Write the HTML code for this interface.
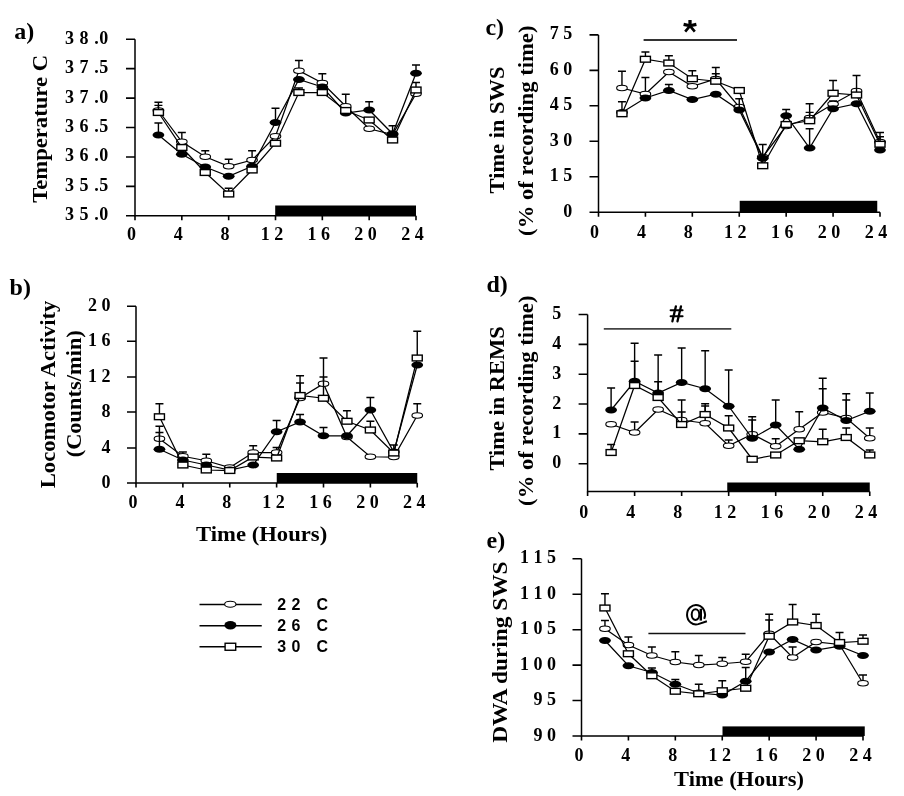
<!DOCTYPE html>
<html><head><meta charset="utf-8"><title>Figure</title>
<style>html,body{margin:0;padding:0;background:#fff;width:904px;height:796px;overflow:hidden}svg{display:block;will-change:transform}</style>
</head><body>
<svg width="904" height="796" viewBox="0 0 904 796">
<rect width="904" height="796" fill="#fff"/>
<rect x="275.2" y="205.5" width="140.8" height="10.25" fill="#000"/>
<path d="M135 39.25V215.75H416" fill="none" stroke="#000" stroke-width="1.5"/>
<path d="M126 39.25H135M126 68.67H135M126 98.09H135M126 127.51H135M126 156.93H135M126 186.35H135M126 215.77H135" stroke="#000" stroke-width="1.6"/>
<text x="108.8" y="43.75" font-size="18" text-anchor="end" letter-spacing="0.55" font-family='"Liberation Serif", serif' font-weight="bold">3 8 .0</text>
<text x="108.8" y="73.17" font-size="18" text-anchor="end" letter-spacing="0.55" font-family='"Liberation Serif", serif' font-weight="bold">3 7 .5</text>
<text x="108.8" y="102.59" font-size="18" text-anchor="end" letter-spacing="0.55" font-family='"Liberation Serif", serif' font-weight="bold">3 7 .0</text>
<text x="108.8" y="132.01" font-size="18" text-anchor="end" letter-spacing="0.55" font-family='"Liberation Serif", serif' font-weight="bold">3 6 .5</text>
<text x="108.8" y="161.43" font-size="18" text-anchor="end" letter-spacing="0.55" font-family='"Liberation Serif", serif' font-weight="bold">3 6 .0</text>
<text x="108.8" y="190.85" font-size="18" text-anchor="end" letter-spacing="0.55" font-family='"Liberation Serif", serif' font-weight="bold">3 5 .5</text>
<text x="108.8" y="220.27" font-size="18" text-anchor="end" letter-spacing="0.55" font-family='"Liberation Serif", serif' font-weight="bold">3 5 .0</text>
<path d="M135 215.75v4.5M181.83 215.75v4.5M228.67 215.75v4.5M275.5 215.75v4.5M322.33 215.75v4.5M369.17 215.75v4.5M416 215.75v4.5" stroke="#000" stroke-width="1.6"/>
<text transform="translate(131.4 240.2)" font-size="18" text-anchor="middle" font-family='"Liberation Serif", serif' font-weight="bold">0</text>
<text transform="translate(178.23 240.2)" font-size="18" text-anchor="middle" font-family='"Liberation Serif", serif' font-weight="bold">4</text>
<text transform="translate(225.07 240.2)" font-size="18" text-anchor="middle" font-family='"Liberation Serif", serif' font-weight="bold">8</text>
<text transform="translate(271.9 240.2)" font-size="18" text-anchor="middle" font-family='"Liberation Serif", serif' font-weight="bold">1 2</text>
<text transform="translate(318.73 240.2)" font-size="18" text-anchor="middle" font-family='"Liberation Serif", serif' font-weight="bold">1 6</text>
<text transform="translate(365.57 240.2)" font-size="18" text-anchor="middle" font-family='"Liberation Serif", serif' font-weight="bold">2 0</text>
<text transform="translate(412.4 240.2)" font-size="18" text-anchor="middle" font-family='"Liberation Serif", serif' font-weight="bold">2 4</text>
<path d="M158.42 110.5 L181.83 141.75 L205.25 156.75 L228.67 166.25 L252.08 160 L275.5 136.25 L298.92 70.75 L322.33 83 L345.75 106.25 L369.17 128.75 L392.58 134.5 L416 93.75" fill="none" stroke="#000" stroke-width="1.25"/>
<path d="M158.42 110.5V102.2M154.42 102.2h8M181.83 141.75V132.5M177.83 132.5h8M205.25 156.75V150.75M201.25 150.75h8M228.67 166.25V159.25M224.67 159.25h8M252.08 160V150.75M248.08 150.75h8M298.92 70.75V60.5M294.92 60.5h8M322.33 83V73.75M318.33 73.75h8M345.75 106.25V94.25M341.75 94.25h8" fill="none" stroke="#000" stroke-width="1.4"/>
<ellipse cx="158.42" cy="110.5" rx="5.3" ry="2.7" fill="#fff" stroke="#000" stroke-width="1.1"/>
<ellipse cx="181.83" cy="141.75" rx="5.3" ry="2.7" fill="#fff" stroke="#000" stroke-width="1.1"/>
<ellipse cx="205.25" cy="156.75" rx="5.3" ry="2.7" fill="#fff" stroke="#000" stroke-width="1.1"/>
<ellipse cx="228.67" cy="166.25" rx="5.3" ry="2.7" fill="#fff" stroke="#000" stroke-width="1.1"/>
<ellipse cx="252.08" cy="160" rx="5.3" ry="2.7" fill="#fff" stroke="#000" stroke-width="1.1"/>
<ellipse cx="275.5" cy="136.25" rx="5.3" ry="2.7" fill="#fff" stroke="#000" stroke-width="1.1"/>
<ellipse cx="298.92" cy="70.75" rx="5.3" ry="2.7" fill="#fff" stroke="#000" stroke-width="1.1"/>
<ellipse cx="322.33" cy="83" rx="5.3" ry="2.7" fill="#fff" stroke="#000" stroke-width="1.1"/>
<ellipse cx="345.75" cy="106.25" rx="5.3" ry="2.7" fill="#fff" stroke="#000" stroke-width="1.1"/>
<ellipse cx="369.17" cy="128.75" rx="5.3" ry="2.7" fill="#fff" stroke="#000" stroke-width="1.1"/>
<ellipse cx="392.58" cy="134.5" rx="5.3" ry="2.7" fill="#fff" stroke="#000" stroke-width="1.1"/>
<ellipse cx="416" cy="93.75" rx="5.3" ry="2.7" fill="#fff" stroke="#000" stroke-width="1.1"/>
<path d="M158.42 135 L181.83 154.25 L205.25 167 L228.67 176.25 L252.08 166.25 L275.5 122.5 L298.92 79.5 L322.33 87 L345.75 113 L369.17 110 L392.58 133.75 L416 73.25" fill="none" stroke="#000" stroke-width="1.25"/>
<path d="M158.42 135V123M154.42 123h8M275.5 122.5V108.25M271.5 108.25h8M369.17 110V101.75M365.17 101.75h8M392.58 133.75V125.75M388.58 125.75h8M416 73.25V65M412 65h8" fill="none" stroke="#000" stroke-width="1.4"/>
<ellipse cx="158.42" cy="135" rx="5.9" ry="3.5" fill="#000"/>
<ellipse cx="181.83" cy="154.25" rx="5.9" ry="3.5" fill="#000"/>
<ellipse cx="205.25" cy="167" rx="5.9" ry="3.5" fill="#000"/>
<ellipse cx="228.67" cy="176.25" rx="5.9" ry="3.5" fill="#000"/>
<ellipse cx="252.08" cy="166.25" rx="5.9" ry="3.5" fill="#000"/>
<ellipse cx="275.5" cy="122.5" rx="5.9" ry="3.5" fill="#000"/>
<ellipse cx="298.92" cy="79.5" rx="5.9" ry="3.5" fill="#000"/>
<ellipse cx="322.33" cy="87" rx="5.9" ry="3.5" fill="#000"/>
<ellipse cx="345.75" cy="113" rx="5.9" ry="3.5" fill="#000"/>
<ellipse cx="369.17" cy="110" rx="5.9" ry="3.5" fill="#000"/>
<ellipse cx="392.58" cy="133.75" rx="5.9" ry="3.5" fill="#000"/>
<ellipse cx="416" cy="73.25" rx="5.9" ry="3.5" fill="#000"/>
<path d="M158.42 112.5 L181.83 147.5 L205.25 172.5 L228.67 194 L252.08 170 L275.5 143.25 L298.92 92.5 L322.33 92.5 L345.75 110.5 L369.17 120 L392.58 140 L416 90" fill="none" stroke="#000" stroke-width="1.25"/>
<path d="M158.42 112.5V105.4M154.42 105.4h8M228.67 194V188.25M224.67 188.25h8M298.92 92.5V88M294.92 88h8M416 90V82.5M412 82.5h8" fill="none" stroke="#000" stroke-width="1.4"/>
<rect x="153.42" y="109.6" width="10" height="5.8" fill="#fff" stroke="#000" stroke-width="1.4"/>
<rect x="176.83" y="144.6" width="10" height="5.8" fill="#fff" stroke="#000" stroke-width="1.4"/>
<rect x="200.25" y="169.6" width="10" height="5.8" fill="#fff" stroke="#000" stroke-width="1.4"/>
<rect x="223.67" y="191.1" width="10" height="5.8" fill="#fff" stroke="#000" stroke-width="1.4"/>
<rect x="247.08" y="167.1" width="10" height="5.8" fill="#fff" stroke="#000" stroke-width="1.4"/>
<rect x="270.5" y="140.35" width="10" height="5.8" fill="#fff" stroke="#000" stroke-width="1.4"/>
<rect x="293.92" y="89.6" width="10" height="5.8" fill="#fff" stroke="#000" stroke-width="1.4"/>
<rect x="317.33" y="89.6" width="10" height="5.8" fill="#fff" stroke="#000" stroke-width="1.4"/>
<rect x="340.75" y="107.6" width="10" height="5.8" fill="#fff" stroke="#000" stroke-width="1.4"/>
<rect x="364.17" y="117.1" width="10" height="5.8" fill="#fff" stroke="#000" stroke-width="1.4"/>
<rect x="387.58" y="137.1" width="10" height="5.8" fill="#fff" stroke="#000" stroke-width="1.4"/>
<rect x="411" y="87.1" width="10" height="5.8" fill="#fff" stroke="#000" stroke-width="1.4"/>
<rect x="276.75" y="473" width="140.5" height="10" fill="#000"/>
<path d="M136 306.25V483H417.25" fill="none" stroke="#000" stroke-width="1.5"/>
<path d="M127 306.25H136M127 341.25H136M127 377H136M127 412H136M127 448H136M127 483H136" stroke="#000" stroke-width="1.6"/>
<text transform="translate(110.5 310.75)" font-size="18" text-anchor="end" font-family='"Liberation Serif", serif' font-weight="bold">2 0</text>
<text transform="translate(110.5 345.75)" font-size="18" text-anchor="end" font-family='"Liberation Serif", serif' font-weight="bold">1 6</text>
<text transform="translate(110.5 381.5)" font-size="18" text-anchor="end" font-family='"Liberation Serif", serif' font-weight="bold">1 2</text>
<text transform="translate(110.5 416.5)" font-size="18" text-anchor="end" font-family='"Liberation Serif", serif' font-weight="bold">8</text>
<text transform="translate(110.5 452.5)" font-size="18" text-anchor="end" font-family='"Liberation Serif", serif' font-weight="bold">4</text>
<text transform="translate(110.5 487.5)" font-size="18" text-anchor="end" font-family='"Liberation Serif", serif' font-weight="bold">0</text>
<path d="M136 483v4.5M182.88 483v4.5M229.75 483v4.5M276.62 483v4.5M323.5 483v4.5M370.38 483v4.5M417.25 483v4.5" stroke="#000" stroke-width="1.6"/>
<text transform="translate(133 507.5)" font-size="18" text-anchor="middle" font-family='"Liberation Serif", serif' font-weight="bold">0</text>
<text transform="translate(179.88 507.5)" font-size="18" text-anchor="middle" font-family='"Liberation Serif", serif' font-weight="bold">4</text>
<text transform="translate(226.75 507.5)" font-size="18" text-anchor="middle" font-family='"Liberation Serif", serif' font-weight="bold">8</text>
<text transform="translate(273.62 507.5)" font-size="18" text-anchor="middle" font-family='"Liberation Serif", serif' font-weight="bold">1 2</text>
<text transform="translate(320.5 507.5)" font-size="18" text-anchor="middle" font-family='"Liberation Serif", serif' font-weight="bold">1 6</text>
<text transform="translate(367.38 507.5)" font-size="18" text-anchor="middle" font-family='"Liberation Serif", serif' font-weight="bold">2 0</text>
<text transform="translate(414.25 507.5)" font-size="18" text-anchor="middle" font-family='"Liberation Serif", serif' font-weight="bold">2 4</text>
<path d="M159.44 438.75 L182.88 456.25 L206.31 460.75 L229.75 467.5 L253.19 452.5 L276.62 452.5 L300.06 398 L323.5 383.75 L346.94 437 L370.38 456.75 L393.81 457 L417.25 415.5" fill="none" stroke="#000" stroke-width="1.25"/>
<path d="M159.44 438.75V426.25M155.44 426.25h8M182.88 456.25V452M178.88 452h8M206.31 460.75V454.25M202.31 454.25h8M253.19 452.5V445.75M249.19 445.75h8M276.62 452.5V447.5M272.62 447.5h8M300.06 398V383M296.06 383h8M323.5 383.75V358M319.5 358h8M417.25 415.5V403.75M413.25 403.75h8" fill="none" stroke="#000" stroke-width="1.4"/>
<ellipse cx="159.44" cy="438.75" rx="5.3" ry="2.7" fill="#fff" stroke="#000" stroke-width="1.1"/>
<ellipse cx="182.88" cy="456.25" rx="5.3" ry="2.7" fill="#fff" stroke="#000" stroke-width="1.1"/>
<ellipse cx="206.31" cy="460.75" rx="5.3" ry="2.7" fill="#fff" stroke="#000" stroke-width="1.1"/>
<ellipse cx="229.75" cy="467.5" rx="5.3" ry="2.7" fill="#fff" stroke="#000" stroke-width="1.1"/>
<ellipse cx="253.19" cy="452.5" rx="5.3" ry="2.7" fill="#fff" stroke="#000" stroke-width="1.1"/>
<ellipse cx="276.62" cy="452.5" rx="5.3" ry="2.7" fill="#fff" stroke="#000" stroke-width="1.1"/>
<ellipse cx="300.06" cy="398" rx="5.3" ry="2.7" fill="#fff" stroke="#000" stroke-width="1.1"/>
<ellipse cx="323.5" cy="383.75" rx="5.3" ry="2.7" fill="#fff" stroke="#000" stroke-width="1.1"/>
<ellipse cx="346.94" cy="437" rx="5.3" ry="2.7" fill="#fff" stroke="#000" stroke-width="1.1"/>
<ellipse cx="370.38" cy="456.75" rx="5.3" ry="2.7" fill="#fff" stroke="#000" stroke-width="1.1"/>
<ellipse cx="393.81" cy="457" rx="5.3" ry="2.7" fill="#fff" stroke="#000" stroke-width="1.1"/>
<ellipse cx="417.25" cy="415.5" rx="5.3" ry="2.7" fill="#fff" stroke="#000" stroke-width="1.1"/>
<path d="M159.44 449.25 L182.88 460 L206.31 465 L229.75 470 L253.19 465 L276.62 431.75 L300.06 422 L323.5 435.75 L346.94 435.75 L370.38 410 L393.81 452 L417.25 365" fill="none" stroke="#000" stroke-width="1.25"/>
<path d="M159.44 449.25V432.5M155.44 432.5h8M276.62 431.75V420.5M272.62 420.5h8M300.06 422V414.5M296.06 414.5h8M323.5 435.75V427.5M319.5 427.5h8M370.38 410V397.5M366.38 397.5h8" fill="none" stroke="#000" stroke-width="1.4"/>
<ellipse cx="159.44" cy="449.25" rx="5.9" ry="3.5" fill="#000"/>
<ellipse cx="182.88" cy="460" rx="5.9" ry="3.5" fill="#000"/>
<ellipse cx="206.31" cy="465" rx="5.9" ry="3.5" fill="#000"/>
<ellipse cx="229.75" cy="470" rx="5.9" ry="3.5" fill="#000"/>
<ellipse cx="253.19" cy="465" rx="5.9" ry="3.5" fill="#000"/>
<ellipse cx="276.62" cy="431.75" rx="5.9" ry="3.5" fill="#000"/>
<ellipse cx="300.06" cy="422" rx="5.9" ry="3.5" fill="#000"/>
<ellipse cx="323.5" cy="435.75" rx="5.9" ry="3.5" fill="#000"/>
<ellipse cx="346.94" cy="435.75" rx="5.9" ry="3.5" fill="#000"/>
<ellipse cx="370.38" cy="410" rx="5.9" ry="3.5" fill="#000"/>
<ellipse cx="393.81" cy="452" rx="5.9" ry="3.5" fill="#000"/>
<ellipse cx="417.25" cy="365" rx="5.9" ry="3.5" fill="#000"/>
<path d="M159.44 416.75 L182.88 465 L206.31 470 L229.75 470.5 L253.19 457 L276.62 458 L300.06 395.5 L323.5 398.25 L346.94 421.25 L370.38 430 L393.81 453 L417.25 358" fill="none" stroke="#000" stroke-width="1.25"/>
<path d="M159.44 416.75V403.75M155.44 403.75h8M300.06 395.5V375.75M296.06 375.75h8M323.5 398.25V377M319.5 377h8M346.94 421.25V410.75M342.94 410.75h8M370.38 430V421.25M366.38 421.25h8M393.81 453V445M389.81 445h8M417.25 358V331.25M413.25 331.25h8" fill="none" stroke="#000" stroke-width="1.4"/>
<rect x="154.44" y="413.85" width="10" height="5.8" fill="#fff" stroke="#000" stroke-width="1.4"/>
<rect x="177.88" y="462.1" width="10" height="5.8" fill="#fff" stroke="#000" stroke-width="1.4"/>
<rect x="201.31" y="467.1" width="10" height="5.8" fill="#fff" stroke="#000" stroke-width="1.4"/>
<rect x="224.75" y="467.6" width="10" height="5.8" fill="#fff" stroke="#000" stroke-width="1.4"/>
<rect x="248.19" y="454.1" width="10" height="5.8" fill="#fff" stroke="#000" stroke-width="1.4"/>
<rect x="271.62" y="455.1" width="10" height="5.8" fill="#fff" stroke="#000" stroke-width="1.4"/>
<rect x="295.06" y="392.6" width="10" height="5.8" fill="#fff" stroke="#000" stroke-width="1.4"/>
<rect x="318.5" y="395.35" width="10" height="5.8" fill="#fff" stroke="#000" stroke-width="1.4"/>
<rect x="341.94" y="418.35" width="10" height="5.8" fill="#fff" stroke="#000" stroke-width="1.4"/>
<rect x="365.38" y="427.1" width="10" height="5.8" fill="#fff" stroke="#000" stroke-width="1.4"/>
<rect x="388.81" y="450.1" width="10" height="5.8" fill="#fff" stroke="#000" stroke-width="1.4"/>
<rect x="412.25" y="355.1" width="10" height="5.8" fill="#fff" stroke="#000" stroke-width="1.4"/>
<rect x="739.7" y="200.8" width="137.55" height="11.4" fill="#000"/>
<path d="M598.5 34.9V212.2H880" fill="none" stroke="#000" stroke-width="1.5"/>
<path d="M589.5 34.9H598.5M589.5 70.36H598.5M589.5 105.82H598.5M589.5 141.28H598.5M589.5 176.74H598.5M589.5 212.2H598.5" stroke="#000" stroke-width="1.6"/>
<text transform="translate(572.2 39.4)" font-size="18" text-anchor="end" font-family='"Liberation Serif", serif' font-weight="bold">7 5</text>
<text transform="translate(572.2 74.86)" font-size="18" text-anchor="end" font-family='"Liberation Serif", serif' font-weight="bold">6 0</text>
<text transform="translate(572.2 110.32)" font-size="18" text-anchor="end" font-family='"Liberation Serif", serif' font-weight="bold">4 5</text>
<text transform="translate(572.2 145.78)" font-size="18" text-anchor="end" font-family='"Liberation Serif", serif' font-weight="bold">3 0</text>
<text transform="translate(572.2 181.24)" font-size="18" text-anchor="end" font-family='"Liberation Serif", serif' font-weight="bold">1 5</text>
<text transform="translate(572.2 216.7)" font-size="18" text-anchor="end" font-family='"Liberation Serif", serif' font-weight="bold">0</text>
<path d="M598.5 212.2v4.5M645.42 212.2v4.5M692.33 212.2v4.5M739.25 212.2v4.5M786.17 212.2v4.5M833.08 212.2v4.5M880 212.2v4.5" stroke="#000" stroke-width="1.6"/>
<text transform="translate(594.5 237.5)" font-size="18" text-anchor="middle" font-family='"Liberation Serif", serif' font-weight="bold">0</text>
<text transform="translate(641.42 237.5)" font-size="18" text-anchor="middle" font-family='"Liberation Serif", serif' font-weight="bold">4</text>
<text transform="translate(688.33 237.5)" font-size="18" text-anchor="middle" font-family='"Liberation Serif", serif' font-weight="bold">8</text>
<text transform="translate(735.25 237.5)" font-size="18" text-anchor="middle" font-family='"Liberation Serif", serif' font-weight="bold">1 2</text>
<text transform="translate(782.17 237.5)" font-size="18" text-anchor="middle" font-family='"Liberation Serif", serif' font-weight="bold">1 6</text>
<text transform="translate(829.08 237.5)" font-size="18" text-anchor="middle" font-family='"Liberation Serif", serif' font-weight="bold">2 0</text>
<text transform="translate(876 237.5)" font-size="18" text-anchor="middle" font-family='"Liberation Serif", serif' font-weight="bold">2 4</text>
<path d="M621.96 88 L645.42 94 L668.88 72 L692.33 86.25 L715.79 79 L739.25 107 L762.71 157 L786.17 126 L809.62 118 L833.08 104 L856.54 91 L880 142" fill="none" stroke="#000" stroke-width="1.25"/>
<path d="M621.96 88V71.25M617.96 71.25h8M645.42 94V77.5M641.42 77.5h8M715.79 79V73.8M711.79 73.8h8M809.62 118V112.4M805.62 112.4h8M833.08 104V101M829.08 101h8M880 142V136.7M876 136.7h8" fill="none" stroke="#000" stroke-width="1.4"/>
<ellipse cx="621.96" cy="88" rx="5.3" ry="2.7" fill="#fff" stroke="#000" stroke-width="1.1"/>
<ellipse cx="645.42" cy="94" rx="5.3" ry="2.7" fill="#fff" stroke="#000" stroke-width="1.1"/>
<ellipse cx="668.88" cy="72" rx="5.3" ry="2.7" fill="#fff" stroke="#000" stroke-width="1.1"/>
<ellipse cx="692.33" cy="86.25" rx="5.3" ry="2.7" fill="#fff" stroke="#000" stroke-width="1.1"/>
<ellipse cx="715.79" cy="79" rx="5.3" ry="2.7" fill="#fff" stroke="#000" stroke-width="1.1"/>
<ellipse cx="739.25" cy="107" rx="5.3" ry="2.7" fill="#fff" stroke="#000" stroke-width="1.1"/>
<ellipse cx="762.71" cy="157" rx="5.3" ry="2.7" fill="#fff" stroke="#000" stroke-width="1.1"/>
<ellipse cx="786.17" cy="126" rx="5.3" ry="2.7" fill="#fff" stroke="#000" stroke-width="1.1"/>
<ellipse cx="809.62" cy="118" rx="5.3" ry="2.7" fill="#fff" stroke="#000" stroke-width="1.1"/>
<ellipse cx="833.08" cy="104" rx="5.3" ry="2.7" fill="#fff" stroke="#000" stroke-width="1.1"/>
<ellipse cx="856.54" cy="91" rx="5.3" ry="2.7" fill="#fff" stroke="#000" stroke-width="1.1"/>
<ellipse cx="880" cy="142" rx="5.3" ry="2.7" fill="#fff" stroke="#000" stroke-width="1.1"/>
<path d="M621.96 112.5 L645.42 98 L668.88 90.5 L692.33 99.5 L715.79 94.25 L739.25 110 L762.71 158.25 L786.17 115.75 L809.62 148 L833.08 108.75 L856.54 103.75 L880 150" fill="none" stroke="#000" stroke-width="1.25"/>
<path d="M668.88 90.5V84.5M664.88 84.5h8M739.25 110V98.75M735.25 98.75h8M786.17 115.75V109.5M782.17 109.5h8M809.62 148V128.75M805.62 128.75h8" fill="none" stroke="#000" stroke-width="1.4"/>
<ellipse cx="621.96" cy="112.5" rx="5.9" ry="3.5" fill="#000"/>
<ellipse cx="645.42" cy="98" rx="5.9" ry="3.5" fill="#000"/>
<ellipse cx="668.88" cy="90.5" rx="5.9" ry="3.5" fill="#000"/>
<ellipse cx="692.33" cy="99.5" rx="5.9" ry="3.5" fill="#000"/>
<ellipse cx="715.79" cy="94.25" rx="5.9" ry="3.5" fill="#000"/>
<ellipse cx="739.25" cy="110" rx="5.9" ry="3.5" fill="#000"/>
<ellipse cx="762.71" cy="158.25" rx="5.9" ry="3.5" fill="#000"/>
<ellipse cx="786.17" cy="115.75" rx="5.9" ry="3.5" fill="#000"/>
<ellipse cx="809.62" cy="148" rx="5.9" ry="3.5" fill="#000"/>
<ellipse cx="833.08" cy="108.75" rx="5.9" ry="3.5" fill="#000"/>
<ellipse cx="856.54" cy="103.75" rx="5.9" ry="3.5" fill="#000"/>
<ellipse cx="880" cy="150" rx="5.9" ry="3.5" fill="#000"/>
<path d="M621.96 113.75 L645.42 59.25 L668.88 63 L692.33 78.75 L715.79 81.25 L739.25 90.5 L762.71 165.75 L786.17 124.5 L809.62 120.75 L833.08 93.25 L856.54 95 L880 144.25" fill="none" stroke="#000" stroke-width="1.25"/>
<path d="M621.96 113.75V101.75M617.96 101.75h8M645.42 59.25V52M641.42 52h8M668.88 63V55.75M664.88 55.75h8M692.33 78.75V70.75M688.33 70.75h8M715.79 81.25V67.5M711.79 67.5h8M762.71 165.75V144.5M758.71 144.5h8M809.62 120.75V103.75M805.62 103.75h8M833.08 93.25V80.5M829.08 80.5h8M856.54 95V75.5M852.54 75.5h8M880 144.25V132.5M876 132.5h8" fill="none" stroke="#000" stroke-width="1.4"/>
<rect x="616.96" y="110.85" width="10" height="5.8" fill="#fff" stroke="#000" stroke-width="1.4"/>
<rect x="640.42" y="56.35" width="10" height="5.8" fill="#fff" stroke="#000" stroke-width="1.4"/>
<rect x="663.88" y="60.1" width="10" height="5.8" fill="#fff" stroke="#000" stroke-width="1.4"/>
<rect x="687.33" y="75.85" width="10" height="5.8" fill="#fff" stroke="#000" stroke-width="1.4"/>
<rect x="710.79" y="78.35" width="10" height="5.8" fill="#fff" stroke="#000" stroke-width="1.4"/>
<rect x="734.25" y="87.6" width="10" height="5.8" fill="#fff" stroke="#000" stroke-width="1.4"/>
<rect x="757.71" y="162.85" width="10" height="5.8" fill="#fff" stroke="#000" stroke-width="1.4"/>
<rect x="781.17" y="121.6" width="10" height="5.8" fill="#fff" stroke="#000" stroke-width="1.4"/>
<rect x="804.62" y="117.85" width="10" height="5.8" fill="#fff" stroke="#000" stroke-width="1.4"/>
<rect x="828.08" y="90.35" width="10" height="5.8" fill="#fff" stroke="#000" stroke-width="1.4"/>
<rect x="851.54" y="92.1" width="10" height="5.8" fill="#fff" stroke="#000" stroke-width="1.4"/>
<rect x="875" y="141.35" width="10" height="5.8" fill="#fff" stroke="#000" stroke-width="1.4"/>
<rect x="727.25" y="482.5" width="142.5" height="9.1" fill="#000"/>
<path d="M587.6 314.5V491.6H869.75" fill="none" stroke="#000" stroke-width="1.5"/>
<path d="M578.6 314.5H587.6M578.6 344.34H587.6M578.6 374.18H587.6M578.6 404.02H587.6M578.6 433.86H587.6M578.6 463.7H587.6" stroke="#000" stroke-width="1.6"/>
<text transform="translate(561.3 319)" font-size="18" text-anchor="end" font-family='"Liberation Serif", serif' font-weight="bold">5</text>
<text transform="translate(561.3 348.84)" font-size="18" text-anchor="end" font-family='"Liberation Serif", serif' font-weight="bold">4</text>
<text transform="translate(561.3 378.68)" font-size="18" text-anchor="end" font-family='"Liberation Serif", serif' font-weight="bold">3</text>
<text transform="translate(561.3 408.52)" font-size="18" text-anchor="end" font-family='"Liberation Serif", serif' font-weight="bold">2</text>
<text transform="translate(561.3 438.36)" font-size="18" text-anchor="end" font-family='"Liberation Serif", serif' font-weight="bold">1</text>
<text transform="translate(561.3 468.2)" font-size="18" text-anchor="end" font-family='"Liberation Serif", serif' font-weight="bold">0</text>
<path d="M587.6 491.6v4.5M634.62 491.6v4.5M681.65 491.6v4.5M728.67 491.6v4.5M775.7 491.6v4.5M822.73 491.6v4.5M869.75 491.6v4.5" stroke="#000" stroke-width="1.6"/>
<text transform="translate(583.8 517.5)" font-size="18" text-anchor="middle" font-family='"Liberation Serif", serif' font-weight="bold">0</text>
<text transform="translate(630.83 517.5)" font-size="18" text-anchor="middle" font-family='"Liberation Serif", serif' font-weight="bold">4</text>
<text transform="translate(677.85 517.5)" font-size="18" text-anchor="middle" font-family='"Liberation Serif", serif' font-weight="bold">8</text>
<text transform="translate(724.88 517.5)" font-size="18" text-anchor="middle" font-family='"Liberation Serif", serif' font-weight="bold">1 2</text>
<text transform="translate(771.9 517.5)" font-size="18" text-anchor="middle" font-family='"Liberation Serif", serif' font-weight="bold">1 6</text>
<text transform="translate(818.93 517.5)" font-size="18" text-anchor="middle" font-family='"Liberation Serif", serif' font-weight="bold">2 0</text>
<text transform="translate(865.95 517.5)" font-size="18" text-anchor="middle" font-family='"Liberation Serif", serif' font-weight="bold">2 4</text>
<path d="M611.11 424.25 L634.62 432.5 L658.14 409.5 L681.65 420 L705.16 423.25 L728.67 445.75 L752.19 434.25 L775.7 446.25 L799.21 429.25 L822.73 412.5 L846.24 418 L869.75 438.25" fill="none" stroke="#000" stroke-width="1.25"/>
<path d="M634.62 432.5V422M630.62 422h8M681.65 420V400M677.65 400h8M705.16 423.25V406M701.16 406h8M728.67 445.75V440M724.67 440h8M752.19 434.25V420M748.19 420h8M775.7 446.25V438.75M771.7 438.75h8M799.21 429.25V411.75M795.21 411.75h8M822.73 412.5V388.75M818.73 388.75h8M846.24 418V400M842.24 400h8M869.75 438.25V428M865.75 428h8" fill="none" stroke="#000" stroke-width="1.4"/>
<ellipse cx="611.11" cy="424.25" rx="5.3" ry="2.7" fill="#fff" stroke="#000" stroke-width="1.1"/>
<ellipse cx="634.62" cy="432.5" rx="5.3" ry="2.7" fill="#fff" stroke="#000" stroke-width="1.1"/>
<ellipse cx="658.14" cy="409.5" rx="5.3" ry="2.7" fill="#fff" stroke="#000" stroke-width="1.1"/>
<ellipse cx="681.65" cy="420" rx="5.3" ry="2.7" fill="#fff" stroke="#000" stroke-width="1.1"/>
<ellipse cx="705.16" cy="423.25" rx="5.3" ry="2.7" fill="#fff" stroke="#000" stroke-width="1.1"/>
<ellipse cx="728.67" cy="445.75" rx="5.3" ry="2.7" fill="#fff" stroke="#000" stroke-width="1.1"/>
<ellipse cx="752.19" cy="434.25" rx="5.3" ry="2.7" fill="#fff" stroke="#000" stroke-width="1.1"/>
<ellipse cx="775.7" cy="446.25" rx="5.3" ry="2.7" fill="#fff" stroke="#000" stroke-width="1.1"/>
<ellipse cx="799.21" cy="429.25" rx="5.3" ry="2.7" fill="#fff" stroke="#000" stroke-width="1.1"/>
<ellipse cx="822.73" cy="412.5" rx="5.3" ry="2.7" fill="#fff" stroke="#000" stroke-width="1.1"/>
<ellipse cx="846.24" cy="418" rx="5.3" ry="2.7" fill="#fff" stroke="#000" stroke-width="1.1"/>
<ellipse cx="869.75" cy="438.25" rx="5.3" ry="2.7" fill="#fff" stroke="#000" stroke-width="1.1"/>
<path d="M611.11 410 L634.62 381.25 L658.14 393 L681.65 382.5 L705.16 388.75 L728.67 406.25 L752.19 438.25 L775.7 425 L799.21 449.25 L822.73 408 L846.24 420.5 L869.75 411.25" fill="none" stroke="#000" stroke-width="1.25"/>
<path d="M611.11 410V388M607.11 388h8M634.62 381.25V343.25M630.62 343.25h8M658.14 393V355M654.14 355h8M681.65 382.5V348M677.65 348h8M705.16 388.75V350.75M701.16 350.75h8M728.67 406.25V370M724.67 370h8M752.19 438.25V416.75M748.19 416.75h8M775.7 425V400M771.7 400h8M822.73 408V378.25M818.73 378.25h8M846.24 420.5V393.75M842.24 393.75h8M869.75 411.25V393M865.75 393h8" fill="none" stroke="#000" stroke-width="1.4"/>
<ellipse cx="611.11" cy="410" rx="5.9" ry="3.5" fill="#000"/>
<ellipse cx="634.62" cy="381.25" rx="5.9" ry="3.5" fill="#000"/>
<ellipse cx="658.14" cy="393" rx="5.9" ry="3.5" fill="#000"/>
<ellipse cx="681.65" cy="382.5" rx="5.9" ry="3.5" fill="#000"/>
<ellipse cx="705.16" cy="388.75" rx="5.9" ry="3.5" fill="#000"/>
<ellipse cx="728.67" cy="406.25" rx="5.9" ry="3.5" fill="#000"/>
<ellipse cx="752.19" cy="438.25" rx="5.9" ry="3.5" fill="#000"/>
<ellipse cx="775.7" cy="425" rx="5.9" ry="3.5" fill="#000"/>
<ellipse cx="799.21" cy="449.25" rx="5.9" ry="3.5" fill="#000"/>
<ellipse cx="822.73" cy="408" rx="5.9" ry="3.5" fill="#000"/>
<ellipse cx="846.24" cy="420.5" rx="5.9" ry="3.5" fill="#000"/>
<ellipse cx="869.75" cy="411.25" rx="5.9" ry="3.5" fill="#000"/>
<path d="M611.11 452.5 L634.62 385.5 L658.14 397.5 L681.65 424.5 L705.16 414.5 L728.67 428 L752.19 459.25 L775.7 455 L799.21 440.75 L822.73 441.75 L846.24 437.5 L869.75 455" fill="none" stroke="#000" stroke-width="1.25"/>
<path d="M611.11 452.5V444.5M607.11 444.5h8M634.62 385.5V361.25M630.62 361.25h8M658.14 397.5V381.75M654.14 381.75h8M681.65 424.5V412M677.65 412h8M705.16 414.5V403.75M701.16 403.75h8M728.67 428V415.75M724.67 415.75h8M822.73 441.75V429.25M818.73 429.25h8M846.24 437.5V428M842.24 428h8M869.75 455V450M865.75 450h8" fill="none" stroke="#000" stroke-width="1.4"/>
<rect x="606.11" y="449.6" width="10" height="5.8" fill="#fff" stroke="#000" stroke-width="1.4"/>
<rect x="629.62" y="382.6" width="10" height="5.8" fill="#fff" stroke="#000" stroke-width="1.4"/>
<rect x="653.14" y="394.6" width="10" height="5.8" fill="#fff" stroke="#000" stroke-width="1.4"/>
<rect x="676.65" y="421.6" width="10" height="5.8" fill="#fff" stroke="#000" stroke-width="1.4"/>
<rect x="700.16" y="411.6" width="10" height="5.8" fill="#fff" stroke="#000" stroke-width="1.4"/>
<rect x="723.67" y="425.1" width="10" height="5.8" fill="#fff" stroke="#000" stroke-width="1.4"/>
<rect x="747.19" y="456.35" width="10" height="5.8" fill="#fff" stroke="#000" stroke-width="1.4"/>
<rect x="770.7" y="452.1" width="10" height="5.8" fill="#fff" stroke="#000" stroke-width="1.4"/>
<rect x="794.21" y="437.85" width="10" height="5.8" fill="#fff" stroke="#000" stroke-width="1.4"/>
<rect x="817.73" y="438.85" width="10" height="5.8" fill="#fff" stroke="#000" stroke-width="1.4"/>
<rect x="841.24" y="434.6" width="10" height="5.8" fill="#fff" stroke="#000" stroke-width="1.4"/>
<rect x="864.75" y="452.1" width="10" height="5.8" fill="#fff" stroke="#000" stroke-width="1.4"/>
<rect x="722.5" y="726.4" width="142.25" height="9.6" fill="#000"/>
<path d="M581.5 558.8V736H863" fill="none" stroke="#000" stroke-width="1.5"/>
<path d="M572.5 558.8H581.5M572.5 594.24H581.5M572.5 629.68H581.5M572.5 665.12H581.5M572.5 700.56H581.5M572.5 736H581.5" stroke="#000" stroke-width="1.6"/>
<text transform="translate(556.1 563.3)" font-size="18" text-anchor="end" font-family='"Liberation Serif", serif' font-weight="bold">1 1 5</text>
<text transform="translate(556.1 598.74)" font-size="18" text-anchor="end" font-family='"Liberation Serif", serif' font-weight="bold">1 1 0</text>
<text transform="translate(556.1 634.18)" font-size="18" text-anchor="end" font-family='"Liberation Serif", serif' font-weight="bold">1 0 5</text>
<text transform="translate(556.1 669.62)" font-size="18" text-anchor="end" font-family='"Liberation Serif", serif' font-weight="bold">1 0 0</text>
<text transform="translate(556.1 705.06)" font-size="18" text-anchor="end" font-family='"Liberation Serif", serif' font-weight="bold">9 5</text>
<text transform="translate(556.1 740.5)" font-size="18" text-anchor="end" font-family='"Liberation Serif", serif' font-weight="bold">9 0</text>
<path d="M581.5 736v4.5M628.42 736v4.5M675.33 736v4.5M722.25 736v4.5M769.17 736v4.5M816.08 736v4.5M863 736v4.5" stroke="#000" stroke-width="1.6"/>
<text transform="translate(578.9 761.2)" font-size="18" text-anchor="middle" font-family='"Liberation Serif", serif' font-weight="bold">0</text>
<text transform="translate(625.82 761.2)" font-size="18" text-anchor="middle" font-family='"Liberation Serif", serif' font-weight="bold">4</text>
<text transform="translate(672.73 761.2)" font-size="18" text-anchor="middle" font-family='"Liberation Serif", serif' font-weight="bold">8</text>
<text transform="translate(719.65 761.2)" font-size="18" text-anchor="middle" font-family='"Liberation Serif", serif' font-weight="bold">1 2</text>
<text transform="translate(766.57 761.2)" font-size="18" text-anchor="middle" font-family='"Liberation Serif", serif' font-weight="bold">1 6</text>
<text transform="translate(813.48 761.2)" font-size="18" text-anchor="middle" font-family='"Liberation Serif", serif' font-weight="bold">2 0</text>
<text transform="translate(860.4 761.2)" font-size="18" text-anchor="middle" font-family='"Liberation Serif", serif' font-weight="bold">2 4</text>
<path d="M604.96 628.75 L628.42 645 L651.88 655.5 L675.33 662 L698.79 665 L722.25 663.75 L745.71 661.75 L769.17 633.75 L792.62 657.5 L816.08 642 L839.54 644.5 L863 683.25" fill="none" stroke="#000" stroke-width="1.25"/>
<path d="M604.96 628.75V620.5M600.96 620.5h8M628.42 645V637M624.42 637h8M651.88 655.5V647M647.88 647h8M675.33 662V651.75M671.33 651.75h8M698.79 665V655.5M694.79 655.5h8M722.25 663.75V657.5M718.25 657.5h8M745.71 661.75V654.25M741.71 654.25h8M769.17 633.75V620M765.17 620h8M792.62 657.5V647M788.62 647h8M863 683.25V675M859 675h8" fill="none" stroke="#000" stroke-width="1.4"/>
<ellipse cx="604.96" cy="628.75" rx="5.3" ry="2.7" fill="#fff" stroke="#000" stroke-width="1.1"/>
<ellipse cx="628.42" cy="645" rx="5.3" ry="2.7" fill="#fff" stroke="#000" stroke-width="1.1"/>
<ellipse cx="651.88" cy="655.5" rx="5.3" ry="2.7" fill="#fff" stroke="#000" stroke-width="1.1"/>
<ellipse cx="675.33" cy="662" rx="5.3" ry="2.7" fill="#fff" stroke="#000" stroke-width="1.1"/>
<ellipse cx="698.79" cy="665" rx="5.3" ry="2.7" fill="#fff" stroke="#000" stroke-width="1.1"/>
<ellipse cx="722.25" cy="663.75" rx="5.3" ry="2.7" fill="#fff" stroke="#000" stroke-width="1.1"/>
<ellipse cx="745.71" cy="661.75" rx="5.3" ry="2.7" fill="#fff" stroke="#000" stroke-width="1.1"/>
<ellipse cx="769.17" cy="633.75" rx="5.3" ry="2.7" fill="#fff" stroke="#000" stroke-width="1.1"/>
<ellipse cx="792.62" cy="657.5" rx="5.3" ry="2.7" fill="#fff" stroke="#000" stroke-width="1.1"/>
<ellipse cx="816.08" cy="642" rx="5.3" ry="2.7" fill="#fff" stroke="#000" stroke-width="1.1"/>
<ellipse cx="839.54" cy="644.5" rx="5.3" ry="2.7" fill="#fff" stroke="#000" stroke-width="1.1"/>
<ellipse cx="863" cy="683.25" rx="5.3" ry="2.7" fill="#fff" stroke="#000" stroke-width="1.1"/>
<path d="M604.96 640.5 L628.42 665.75 L651.88 672.5 L675.33 684.25 L698.79 693 L722.25 695 L745.71 681.25 L769.17 652 L792.62 639.5 L816.08 650 L839.54 646.25 L863 655.5" fill="none" stroke="#000" stroke-width="1.25"/>
<path d="M675.33 684.25V679.5M671.33 679.5h8M745.71 681.25V667.5M741.71 667.5h8" fill="none" stroke="#000" stroke-width="1.4"/>
<ellipse cx="604.96" cy="640.5" rx="5.9" ry="3.5" fill="#000"/>
<ellipse cx="628.42" cy="665.75" rx="5.9" ry="3.5" fill="#000"/>
<ellipse cx="651.88" cy="672.5" rx="5.9" ry="3.5" fill="#000"/>
<ellipse cx="675.33" cy="684.25" rx="5.9" ry="3.5" fill="#000"/>
<ellipse cx="698.79" cy="693" rx="5.9" ry="3.5" fill="#000"/>
<ellipse cx="722.25" cy="695" rx="5.9" ry="3.5" fill="#000"/>
<ellipse cx="745.71" cy="681.25" rx="5.9" ry="3.5" fill="#000"/>
<ellipse cx="769.17" cy="652" rx="5.9" ry="3.5" fill="#000"/>
<ellipse cx="792.62" cy="639.5" rx="5.9" ry="3.5" fill="#000"/>
<ellipse cx="816.08" cy="650" rx="5.9" ry="3.5" fill="#000"/>
<ellipse cx="839.54" cy="646.25" rx="5.9" ry="3.5" fill="#000"/>
<ellipse cx="863" cy="655.5" rx="5.9" ry="3.5" fill="#000"/>
<path d="M604.96 608 L628.42 653.75 L651.88 675.75 L675.33 691.25 L698.79 693.75 L722.25 690.75 L745.71 688.25 L769.17 636.25 L792.62 622 L816.08 625.5 L839.54 642.5 L863 641.25" fill="none" stroke="#000" stroke-width="1.25"/>
<path d="M604.96 608V593.75M600.96 593.75h8M651.88 675.75V668M647.88 668h8M698.79 693.75V684.25M694.79 684.25h8M722.25 690.75V680.75M718.25 680.75h8M769.17 636.25V614.25M765.17 614.25h8M792.62 622V604.5M788.62 604.5h8M816.08 625.5V614.25M812.08 614.25h8M839.54 642.5V632.5M835.54 632.5h8M863 641.25V635M859 635h8" fill="none" stroke="#000" stroke-width="1.4"/>
<rect x="599.96" y="605.1" width="10" height="5.8" fill="#fff" stroke="#000" stroke-width="1.4"/>
<rect x="623.42" y="650.85" width="10" height="5.8" fill="#fff" stroke="#000" stroke-width="1.4"/>
<rect x="646.88" y="672.85" width="10" height="5.8" fill="#fff" stroke="#000" stroke-width="1.4"/>
<rect x="670.33" y="688.35" width="10" height="5.8" fill="#fff" stroke="#000" stroke-width="1.4"/>
<rect x="693.79" y="690.85" width="10" height="5.8" fill="#fff" stroke="#000" stroke-width="1.4"/>
<rect x="717.25" y="687.85" width="10" height="5.8" fill="#fff" stroke="#000" stroke-width="1.4"/>
<rect x="740.71" y="685.35" width="10" height="5.8" fill="#fff" stroke="#000" stroke-width="1.4"/>
<rect x="764.17" y="633.35" width="10" height="5.8" fill="#fff" stroke="#000" stroke-width="1.4"/>
<rect x="787.62" y="619.1" width="10" height="5.8" fill="#fff" stroke="#000" stroke-width="1.4"/>
<rect x="811.08" y="622.6" width="10" height="5.8" fill="#fff" stroke="#000" stroke-width="1.4"/>
<rect x="834.54" y="639.6" width="10" height="5.8" fill="#fff" stroke="#000" stroke-width="1.4"/>
<rect x="858" y="638.35" width="10" height="5.8" fill="#fff" stroke="#000" stroke-width="1.4"/>
<text x="14.2" y="39" font-size="24" text-anchor="start" font-family='"Liberation Serif", serif' font-weight="bold">a)</text>
<text x="9.6" y="294.6" font-size="24" text-anchor="start" font-family='"Liberation Serif", serif' font-weight="bold">b)</text>
<text x="485.4" y="34.6" font-size="24" text-anchor="start" font-family='"Liberation Serif", serif' font-weight="bold">c)</text>
<text x="486.5" y="291.8" font-size="24" text-anchor="start" font-family='"Liberation Serif", serif' font-weight="bold">d)</text>
<text x="486.5" y="547.6" font-size="24" text-anchor="start" font-family='"Liberation Serif", serif' font-weight="bold">e)</text>
<text transform="translate(47.3 128.9) rotate(-90) scale(1.03 1)" font-size="22" text-anchor="middle" font-family='"Liberation Serif", serif' font-weight="bold">Temperature C</text>
<text transform="translate(54.8 394.4) rotate(-90) scale(1.03 1)" font-size="22" text-anchor="middle" font-family='"Liberation Serif", serif' font-weight="bold">Locomotor Activity</text>
<text transform="translate(80.8 393.75) rotate(-90) scale(1.02 1)" font-size="22" text-anchor="middle" font-family='"Liberation Serif", serif' font-weight="bold">(Counts/min)</text>
<text transform="translate(504.4 130) rotate(-90) scale(1.02 1)" font-size="22" text-anchor="middle" font-family='"Liberation Serif", serif' font-weight="bold">Time in SWS</text>
<text transform="translate(532.8 130.7) rotate(-90) scale(1.03 1)" font-size="22" text-anchor="middle" font-family='"Liberation Serif", serif' font-weight="bold">(% of recording time)</text>
<text transform="translate(504.4 398.5) rotate(-90) scale(1.02 1)" font-size="22" text-anchor="middle" font-family='"Liberation Serif", serif' font-weight="bold">Time in REMS</text>
<text transform="translate(532.8 400.7) rotate(-90) scale(1.03 1)" font-size="22" text-anchor="middle" font-family='"Liberation Serif", serif' font-weight="bold">(% of recording time)</text>
<text transform="translate(507.3 652.2) rotate(-90) scale(1.06 1)" font-size="22" text-anchor="middle" font-family='"Liberation Serif", serif' font-weight="bold">DWA during SWS</text>
<text transform="translate(261.65 541.2) scale(1.03 1)" font-size="22" text-anchor="middle" font-family='"Liberation Serif", serif' font-weight="bold">Time (Hours)</text>
<text transform="translate(739 785.7) scale(1.02 1)" font-size="22" text-anchor="middle" font-family='"Liberation Serif", serif' font-weight="bold">Time (Hours)</text>
<path d="M643.6 39.9H737" stroke="#333" stroke-width="2"/>
<path d="M603.8 328.9H731.3" stroke="#444" stroke-width="1.8"/>
<path d="M648.4 633.5H745.5" stroke="#111" stroke-width="1.5"/>
<g stroke="#000" fill="none" stroke-linecap="butt"><path d="M690 20V26.5" stroke-width="3.3"/><path d="M690 25.8L683.6 24.4M690 25.8L696.4 24.4" stroke-width="3.2"/><path d="M690 25.8L685.2 31.6M690 25.8L694.8 31.6" stroke-width="2.6"/></g>
<g stroke="#000" fill="none" stroke-width="2" stroke-linecap="round"><path d="M675.9 306.3L672.4 321.3M681 306.3L677.5 321.3" stroke-width="2.3"/><path d="M670.6 310.2H682.6M670.6 316.2H682.6"/></g>
<g stroke="#000" fill="none" stroke-width="2"><path d="M704.2 618.8A9 9.7 0 1 0 698.3 624.1L706.9 621.3"/><ellipse cx="695.5" cy="614.6" rx="3.8" ry="5.4"/><path d="M700.8 608.8V620.6" stroke-width="2.4"/></g>
<path d="M199.5 604.5H261.75" stroke="#000" stroke-width="1.3"/>
<ellipse cx="230.3" cy="604.2" rx="5.7" ry="3" fill="#fff" stroke="#000" stroke-width="1.1"/>
<text transform="translate(0 610) scale(1 1.065)" y="0" font-size="16" font-family='"Liberation Sans", sans-serif' font-weight="bold"><tspan x="277.3">2</tspan><tspan x="291.6">2</tspan><tspan x="316.6">C</tspan></text>
<path d="M199.5 625.75H261.75" stroke="#000" stroke-width="1.3"/>
<ellipse cx="230.4" cy="625.25" rx="6" ry="4.2" fill="#000"/>
<text transform="translate(0 631.25) scale(1 1.065)" y="0" font-size="16" font-family='"Liberation Sans", sans-serif' font-weight="bold"><tspan x="277.3">2</tspan><tspan x="291.6">6</tspan><tspan x="316.6">C</tspan></text>
<path d="M199.5 646.75H261.75" stroke="#000" stroke-width="1.3"/>
<rect x="225.1" y="643.25" width="10.6" height="7" fill="#fff" stroke="#000" stroke-width="1.4"/>
<text transform="translate(0 652.25) scale(1 1.065)" y="0" font-size="16" font-family='"Liberation Sans", sans-serif' font-weight="bold"><tspan x="277.3">3</tspan><tspan x="291.6">0</tspan><tspan x="316.6">C</tspan></text>
</svg>
</body></html>
